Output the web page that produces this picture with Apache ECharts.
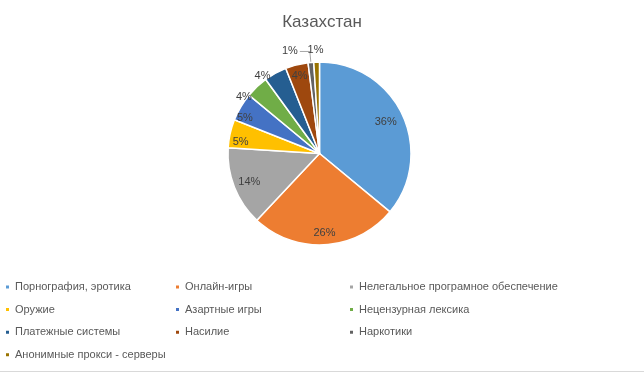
<!DOCTYPE html>
<html>
<head>
<meta charset="utf-8">
<script src="https://cdn.jsdelivr.net/npm/echarts@6/dist/echarts.min.js"></script>
<style>
html,body{margin:0;padding:0;background:#fff;}
#chart{width:644px;height:373px;}
</style>
</head>
<body>
<div id="chart"></div>
<script>
const title = 'Казахстан';
const categories = [
  'Порнография, эротика',
  'Онлайн-игры',
  'Нелегальное програмное обеспечение',
  'Оружие',
  'Азартные игры',
  'Нецензурная лексика',
  'Платежные системы',
  'Насилие',
  'Наркотики',
  'Анонимные прокси - серверы'
];
const values = [36, 26, 14, 5, 5, 4, 4, 4, 1, 1];

const colors = ['#5B9BD5', '#ED7D31', '#A5A5A5', '#FFC000', '#4472C4', '#70AD47', '#255E91', '#9E480E', '#636363', '#997300'];
const FONT = "'Liberation Sans', Arial, sans-serif";
const CENTER = [319.5, 153.5];
const R = 91.5;

// label placement style per slice (inside by default)
const outsideNoLine = { 5: true, 6: true, 9: true };
const labelNudge = { 0: [-6, 2], 2: [4, -1], 3: [-1, 6], 4: [-6, 5], 5: [-2, 10], 6: [-2, 3], 9: [10, -6] };

const chart = echarts.init(document.getElementById('chart'), null, { renderer: 'canvas' });

const baseData = categories.map((n, i) => ({ name: n, value: values[i], itemStyle: { color: colors[i] } }));
const labelData = categories.map((n, i) => {
  const item = { name: n, value: values[i] };
  if (outsideNoLine[i]) {
    item.label = { position: 'outside', distanceToLabelLine: 3 };
    item.labelLine = { show: false, length: i === 9 ? 6 : 0, length2: 0 };
  } else if (i === 8) {
    item.label = { position: 'outside', distanceToLabelLine: 2 };
    item.labelLine = { show: true, length: 11, length2: 10, lineStyle: { color: '#A6A6A6', width: 1 } };
  }
  return item;
});

const legendCols = [[0, 3, 6, 9], [1, 4, 7], [2, 5, 8]];
const legendLeft = [4, 174, 348];
const legends = legendCols.map((idx, c) => ({
  orient: 'vertical',
  left: legendLeft[c],
  top: 280,
  padding: 0,
  itemWidth: 5,
  itemHeight: 5,
  itemGap: 8.6,
  icon: 'rect',
  selectedMode: false,
  data: idx.map(i => categories[i]),
  textStyle: { fontFamily: FONT, fontSize: 11, color: '#595959', lineHeight: 14 }
}));

chart.setOption({
  animation: false,
  title: {
    text: title,
    left: 'center',
    top: 9,
    textStyle: { fontFamily: FONT, fontSize: 17, fontWeight: 'normal', color: '#595959' }
  },
  legend: legends,
  graphic: [{
    type: 'line',
    shape: { x1: 0, y1: 371.5, x2: 644, y2: 371.5 },
    style: { stroke: '#D9D9D9', lineWidth: 1 },
    silent: true
  }],
  series: [
    {
      type: 'pie',
      center: CENTER,
      radius: R,
      startAngle: 90,
      clockwise: true,
      data: baseData,
      itemStyle: { borderColor: '#FFFFFF', borderWidth: 1.5 },
      label: { show: false },
      labelLine: { show: false },
      emphasis: { disabled: true }
    },
    {
      type: 'pie',
      center: CENTER,
      radius: [62, R],
      startAngle: 90,
      clockwise: true,
      silent: true,
      avoidLabelOverlap: false,
      data: labelData,
      itemStyle: { color: 'rgba(0,0,0,0)', borderWidth: 0 },
      label: {
        show: true,
        position: 'inside',
        formatter: p => p.value + '%',
        fontFamily: FONT,
        fontSize: 11,
        color: '#404040'
      },
      labelLine: { show: false },
      labelLayout: p => {
        const n = labelNudge[p.dataIndex];
        return n ? { dx: n[0], dy: n[1] } : {};
      },
      emphasis: { disabled: true }
    }
  ]
});
</script>
</body>
</html>
